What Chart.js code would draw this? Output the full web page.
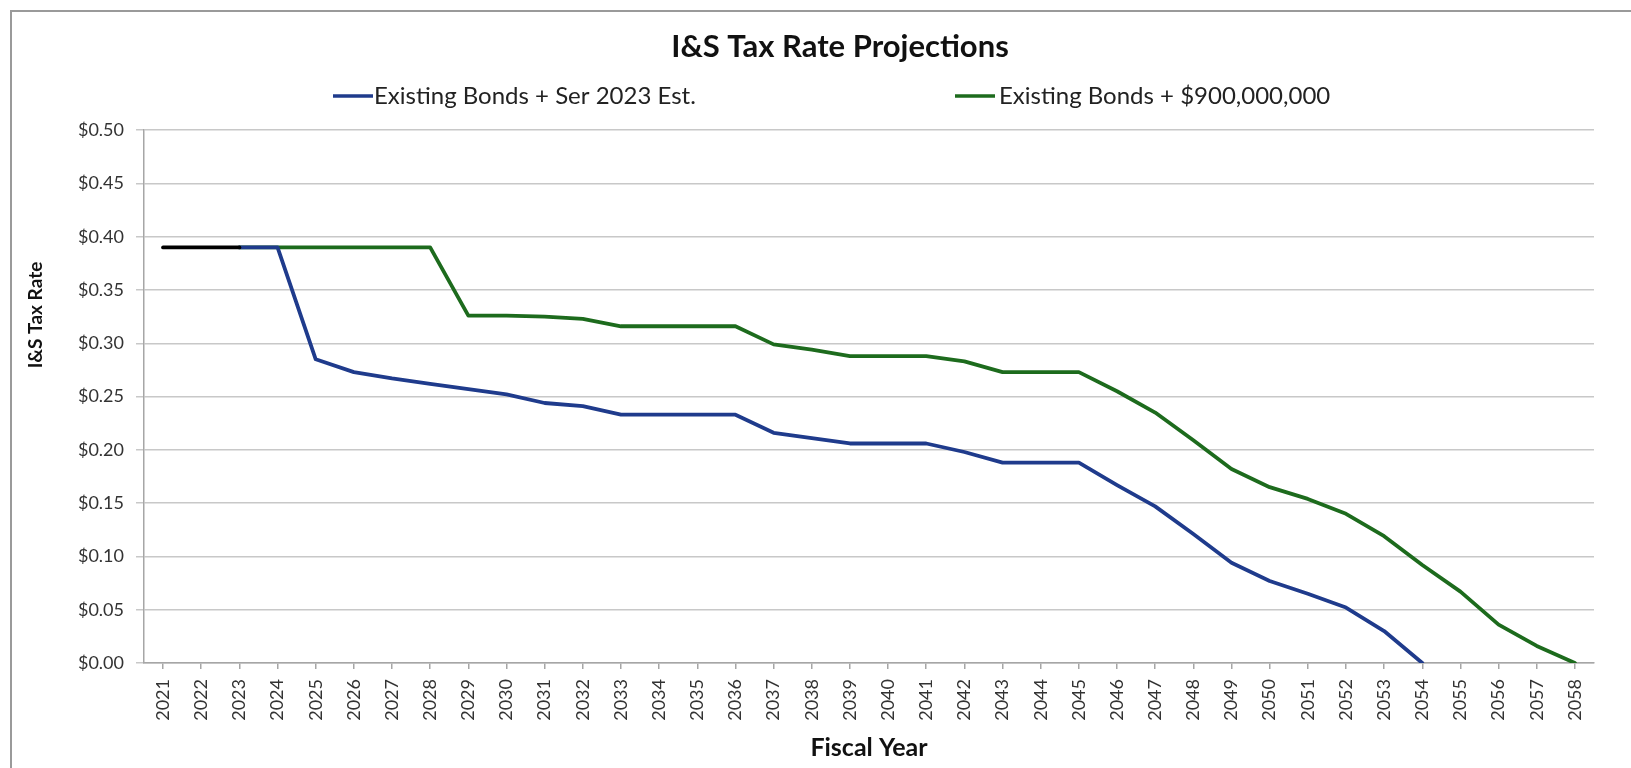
<!DOCTYPE html>
<html>
<head>
<meta charset="utf-8">
<script src="https://cdn.jsdelivr.net/npm/chart.js@4.4.1/dist/chart.umd.min.js"></script>
<style>
html, body { margin: 0; padding: 0; background: #fff; overflow: hidden; width: 1631px; height: 768px; }
#frame { position: absolute; left: 10px; top: 10px; width: 1662px; height: 792px; border: 2px solid #9a9a9a; box-sizing: border-box; }
#taxchart { position: absolute; left: 12px; top: 12px; }
</style>
</head>
<body>
<div id="frame"></div>
<canvas id="taxchart" width="1656" height="770" style="width:1656px;height:770px"></canvas>
<script>
// fiscal years on the x axis
var years = [];
for (var y = 2021; y <= 2058; y++) years.push(String(y));

// actual rate (black segment at the start)
var actualRate = [0.39, 0.39, 0.39];

// Existing Bonds + Ser 2023 Est.
var serEstRate = [null, null, 0.39, 0.39, 0.285, 0.273, 0.267, 0.262, 0.257, 0.252,
  0.244, 0.241, 0.233, 0.233, 0.233, 0.233, 0.216, 0.211, 0.206, 0.206,
  0.206, 0.198, 0.188, 0.188, 0.188, 0.167, 0.147, 0.121, 0.094, 0.077,
  0.065, 0.052, 0.030, 0.000];

// Existing Bonds + $900,000,000
var bond900Rate = [null, null, 0.39, 0.39, 0.39, 0.39, 0.39, 0.39, 0.326, 0.326,
  0.325, 0.323, 0.316, 0.316, 0.316, 0.316, 0.299, 0.294, 0.288, 0.288,
  0.288, 0.283, 0.273, 0.273, 0.273, 0.255, 0.235, 0.209, 0.182, 0.165,
  0.154, 0.140, 0.119, 0.092, 0.067, 0.036, 0.016, 0.000];

var yTicks = [0, 0.05, 0.10, 0.15, 0.20, 0.25, 0.30, 0.35, 0.40, 0.45, 0.50];

Chart.defaults.font.family = 'Lato';
Chart.defaults.color = '#333';

// excel style legend: two entries spread far apart, plus the y title sitting above centre
var legendSpots = [
  {dataset: 1, lineX: 321, textX: 362},
  {dataset: 2, lineX: 943, textX: 987}
];
var legendY = 84;
var yTitle = {text: 'I&S Tax Rate', x: 24, y: 303};
var sketchLegend = {
  id: 'sketchLegend',
  afterDraw: function(chart) {
    var c = chart.ctx;
    c.save();
    c.font = '24px Lato';
    c.textBaseline = 'middle';
    legendSpots.forEach(function(s) {
      var ds = chart.data.datasets[s.dataset];
      c.strokeStyle = ds.borderColor;
      c.lineWidth = 3.5;
      c.beginPath();
      c.moveTo(s.lineX, legendY);
      c.lineTo(s.lineX + 40, legendY);
      c.stroke();
      c.fillStyle = '#222';
      c.fillText(ds.label, s.textX, legendY);
    });
    c.translate(yTitle.x, yTitle.y);
    c.rotate(-Math.PI / 2);
    c.font = 'bold 19px Lato';
    c.textAlign = 'center';
    c.fillStyle = '#111';
    c.fillText(yTitle.text, 0, 0);
    c.restore();
  }
};

var ctx = document.getElementById('taxchart');
var config = {
  type: 'line',
  data: {
    labels: years,
    datasets: [{
      label: 'Actual',
      data: actualRate,
      borderColor: '#000000',
      borderWidth: 3.8,
      order: 0
    },
    {
      label: 'Existing Bonds + Ser 2023 Est.',
      data: serEstRate,
      borderColor: '#1f3b8c',
      borderWidth: 3.8,
      order: 1
    },
    {
      label: 'Existing Bonds + $900,000,000',
      data: bond900Rate,
      borderColor: '#1d6b1d',
      borderWidth: 3.8,
      order: 2
    }]
  },
  options: {
    responsive: false,
    animation: false,
    elements: { point: { radius: 0 }, line: { tension: 0, borderCapStyle: 'round', borderJoinStyle: 'round' } },
    plugins: {
      legend: { display: false },
      tooltip: { enabled: false },
      title: {
        display: true,
        text: 'I&S Tax Rate Projections',
        color: '#111',
        font: { size: 31, weight: 'bold' },
        padding: { top: 16, bottom: 65 }
      }
    },
    scales: {
      x: {
        offset: true,
        afterFit: function(s) { s.height = 119; },
        grid: { drawOnChartArea: false, color: '#a6a6a6', tickLength: 6, lineWidth: 1.5 },
        border: { color: '#a6a6a6', width: 1.5 },
        ticks: { minRotation: 90, maxRotation: 90, autoSkip: false, padding: 10, font: { size: 18 }, color: '#333' },
        title: { display: true, text: 'Fiscal Year', color: '#111', font: { size: 25, weight: 'bold' }, padding: { top: 0, bottom: 19 } }
      },
      y: {
        min: 0,
        max: 0.5,
        afterFit: function(s) { s.width = 132; },
        afterBuildTicks: function(s) { s.ticks = yTicks.map(function(v) { return {value: v}; }); },
        grid: { color: '#c8c8c8', lineWidth: 1.5, tickLength: 8 },
        border: { color: '#a6a6a6', width: 1.5 },
        ticks: {
          padding: 12,
          font: { size: 18 },
          color: '#333',
          callback: function(v) { return '$' + Number(v).toFixed(2); }
        }
      },
      // empty right margin so the title centres on the whole frame
      yRight: {
        position: 'right',
        min: 0,
        max: 0.5,
        afterFit: function(s) { s.width = 74; },
        grid: { display: false },
        border: { display: false },
        ticks: { display: false }
      }
    }
  },
  plugins: [sketchLegend]
};

var chart = new Chart(ctx, config);
</script>
</body>
</html>
